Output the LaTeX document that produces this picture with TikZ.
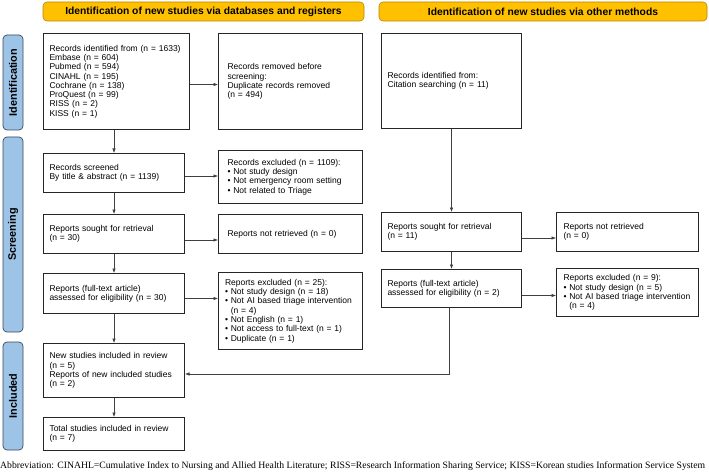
\documentclass[tikz,border=0pt]{standalone}
\usepackage{fontspec}
\setmainfont{Liberation Sans}
\newfontfamily\notefont{Liberation Serif}
\usetikzlibrary{arrows.meta,positioning}

\definecolor{bannerorange}{HTML}{FFC000}
\definecolor{bannerline}{HTML}{B8860B}
\definecolor{phaseblue}{HTML}{9DC3E6}
\definecolor{phaseline}{HTML}{3A4A5C}

\tikzset{
    box/.style={draw=black!85, line width=1pt, align=left, anchor=north west,
        inner xsep=6pt, font=\fontsize{8.5}{9.3}\selectfont},
    banner/.style={draw=bannerline, fill=bannerorange, rounded corners=4pt,
        line width=0.6pt, minimum height=19pt, font=\bfseries\fontsize{10.3}{11}\selectfont},
    phase/.style={draw=phaseline, fill=phaseblue, rounded corners=4pt, rotate=90,
        line width=0.7pt, minimum height=20pt, inner sep=1pt, font=\bfseries\fontsize{10.8}{11}\selectfont},
    link/.style={draw=black!75, line width=0.6pt, -{Latex[length=4.5pt,width=3.5pt]}},
    joint/.style={draw=black!75, line width=0.6pt},
}

\begin{document}
\begin{tikzpicture}[x=1pt, y=-1pt]
    \useasboundingbox (0,0) rectangle (709,473);

    % banners and phase labels
    \node[banner, minimum width=321pt] (bandb) at (203.5,11.5) {Identification of new studies via databases and registers};
    \node[banner, minimum width=328pt] (bother) at (543,11.5) {Identification of new studies via other methods};
    \node[phase, minimum width=95pt] (pident) at (13,82.5) {Identification};
    \node[phase, minimum width=195pt] (pscreen) at (13,234.5) {Screening};
    \node[phase, minimum width=108pt] (pincl) at (13,396) {Included};

    % databases and registers
    \node[box, text width=134pt, minimum height=96pt] (ident) at (43,33) {Records identified from (n = 1633)\\Embase (n = 604)\\Pubmed (n = 594)\\CINAHL (n = 195)\\Cochrane (n = 138)\\ProQuest (n = 99)\\RISS (n = 2)\\KISS (n = 1)};
    \node[box, text width=126pt, minimum height=96pt, inner xsep=9pt] (removed) at (218,33) {Records removed before\\screening:\\Duplicate records removed\\(n = 494)};
    \node[box, text width=129pt, minimum height=39pt] (screened) at (43,153) {Records screened\\By title \& abstract (n = 1139)};
    \node[box, text width=126pt, minimum height=53pt, inner xsep=9pt] (excl) at (218,150) {Records excluded (n = 1109):\\• Not study design\\• Not emergency room setting\\• Not related to Triage};
    \node[box, text width=129pt, minimum height=39pt] (sought) at (43,214) {Reports sought for retrieval\\(n = 30)};
    \node[box, text width=126pt, minimum height=39pt, inner xsep=9pt] (notret) at (218,214) {Reports not retrieved (n = 0)};
    \node[box, text width=129pt, minimum height=40pt] (assess) at (43,273) {Reports (full-text article)\\assessed for eligibility (n = 30)};
    \node[box, text width=131pt, minimum height=77pt, inner xsep=6.5pt] (rexcl) at (218,272) {Reports excluded (n = 25):\\• Not study design (n = 18)\\• Not AI based triage intervention\\\phantom{• }(n = 4)\\• Not English (n = 1)\\• Not access to full-text (n = 1)\\• Duplicate (n = 1)};
    \node[box, text width=129pt, minimum height=54pt] (newst) at (43,343) {New studies included in review\\(n = 5)\\Reports of new included studies\\(n = 2)};
    \node[box, text width=129pt, minimum height=33pt] (total) at (43,417) {Total studies included in review\\(n = 7)};

    % other methods
    \node[box, text width=128pt, minimum height=95pt] (cite) at (381,33) {Records identified from:\\Citation searching (n = 11)};
    \node[box, text width=128pt, minimum height=39pt] (osought) at (381,212) {Reports sought for retrieval\\(n = 11)};
    \node[box, text width=128pt, minimum height=39pt, inner xsep=7pt] (onotret) at (556,212) {Reports not retrieved\\(n = 0)};
    \node[box, text width=128pt, minimum height=38pt] (oassess) at (381,269) {Reports (full-text article)\\assessed for eligibility (n = 2)};
    \node[box, text width=128pt, minimum height=48pt, inner xsep=7pt] (orexcl) at (556,268) {Reports excluded (n = 9):\\• Not study design (n = 5)\\• Not AI based triage intervention\\\phantom{• }(n = 4)};

    % connectors
    \draw[link] ([yshift=-3pt]ident.east) -- ([yshift=-3pt]removed.west);
    \draw[link] (ident.south -| screened.north) -- (screened.north);
    \draw[link] ([yshift=-3pt]screened.east) -- ([yshift=-3pt]screened.east -| excl.west);
    \draw[link] (screened) -- (sought);
    \draw[link] ([yshift=-6pt]sought.east) -- ([yshift=-6pt]notret.west);
    \draw[link] (sought) -- (assess);
    \draw[link] ([yshift=-5pt]assess.east) -- ([yshift=-5pt]assess.east -| rexcl.west);
    \draw[link] (assess) -- (newst);
    \draw[link] (newst) -- (total);
    \draw[link] (cite) -- (osought);
    \draw[link] ([yshift=-6pt]osought.east) -- ([yshift=-6pt]onotret.west);
    \draw[link] (osought) -- (oassess);
    \draw[link] ([yshift=-7pt]oassess.east) -- ([yshift=-7pt]oassess.east -| orexcl.west);
    \coordinate (bend) at ([xshift=-2pt]oassess.south |- 0,374);
    \draw[joint] ([xshift=-2pt]oassess.south) -- (bend);
    \draw[link] (bend) -- (bend -| newst.east);

    % footnote
    \node[anchor=west, inner sep=0pt, font=\notefont\fontsize{9.7}{10}\selectfont] (note) at (0,466) {Abbreviation: CINAHL=Cumulative Index to Nursing and Allied Health Literature; RISS=Research Information Sharing Service; KISS=Korean studies Information Service System};
\end{tikzpicture}
\end{document}
